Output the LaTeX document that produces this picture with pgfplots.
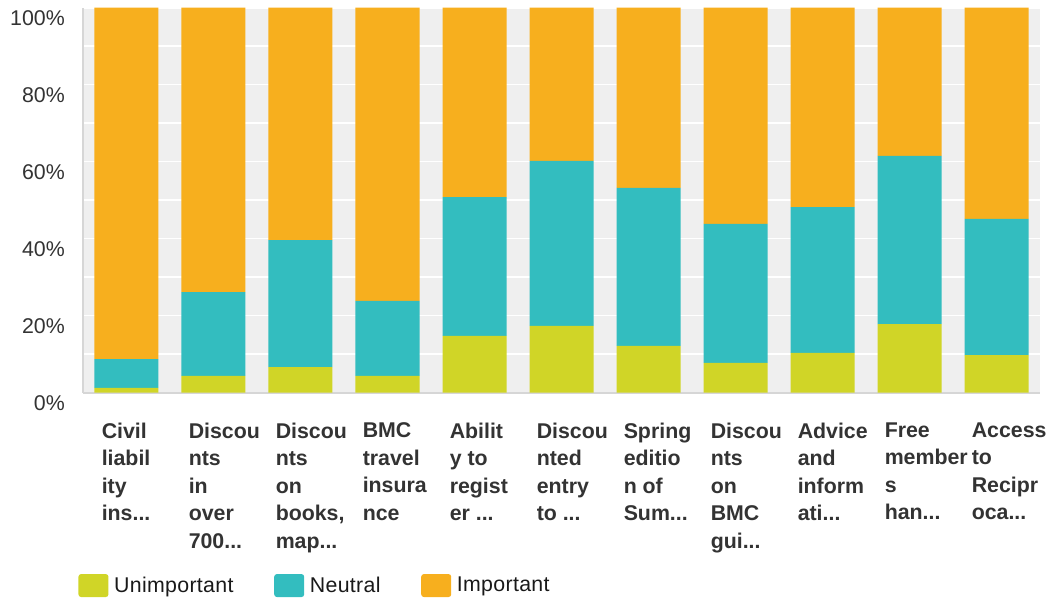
\documentclass[border=0pt]{standalone}
\usepackage{pgfplots}
\pgfplotsset{compat=1.18}
\usepackage{fontspec}
\setmainfont{Liberation Sans}
\definecolor{cU}{HTML}{D0D527}
\definecolor{cN}{HTML}{33BDBF}
\definecolor{cI}{HTML}{F7AF1E}
\definecolor{bgc}{HTML}{EFEFEF}
\definecolor{lineg}{HTML}{D6D6D6}
\definecolor{txt}{HTML}{333333}
\newcommand{\dd}{.\kern0pt.\kern0pt.}
\pgfplotstableread{
x U N I
0 1.2 7.5 91.3
1 4.3 21.8 73.9
2 6.6 33.0 60.4
3 4.3 19.5 76.2
4 14.7 36.1 49.2
5 17.3 42.9 39.8
6 12.1 41.1 46.8
7 7.7 36.1 56.2
8 10.3 37.9 51.8
9 17.8 43.7 38.5
10 9.7 35.4 54.9
}\datatable
\begin{document}
\begin{tikzpicture}
\useasboundingbox (-62.25pt,-154.9pt) rectangle (723pt,294.4pt);
\begin{axis}[
  scale only axis,
  width=717.75pt, height=288.6pt,
  ybar stacked, bar width=48pt,
  xmin=-0.5, xmax=10.5, ymin=0, ymax=100,
  axis background/.style={fill=bgc},
  axis x line*=bottom, axis y line*=left,
  axis line style={draw=lineg, line width=1.5pt, -},
  major tick length=0pt, minor tick length=0pt,
  ytick={0,20,40,60,80,100},
  minor ytick={10,30,50,70,90},
  yticklabels={0\%,20\%,40\%,60\%,80\%,100\%},
  grid=both,
  major grid style={draw=white, line width=1.2pt},
  minor grid style={draw=white, line width=1.2pt},
  xmajorgrids=false, xminorgrids=false,
  yticklabel style={font=\fontsize{16}{19}\selectfont, text=txt, anchor=east, inner sep=0pt, xshift=-13.5pt, yshift=-8pt},
  xtick=data,
  xticklabels={
    {Civil\\liabil\\ity\\ins\dd},
    {Discou\\nts\\in\\over\\700\dd},
    {Discou\\nts\\on\\books,\\map\dd},
    {BMC\\travel\\insura\\nce},
    {Abilit\\y to\\regist\\er \dd},
    {Discou\\nted\\entry\\to \dd},
    {Spring\\editio\\n of\\Sum\dd},
    {Discou\\nts\\on\\BMC\\gui\dd},
    {Advice\\and\\inform\\ati\dd},
    {Free\\member\\s\\han\dd},
    {Access\\to\\Recipr\\oca\dd}},
  xticklabel style={font=\bfseries\fontsize{16}{20.6}\selectfont, text=txt, align=left, anchor=north west, inner sep=0pt, xshift=-18.75pt, yshift=-22.5pt},
  legend columns=3,
  legend style={draw=none, fill=none, inner sep=0pt, at={(axis description cs:-0.005,-0.5016)}, anchor=west,
    font=\fontsize{16}{19}\selectfont\addfontfeatures{LetterSpace=1.5}, text=black!90,
    /tikz/every odd column/.append style={column sep=2.25pt},
    /tikz/every even column/.append style={column sep=28.5pt}},
]
\addplot[fill=cU, draw=none, legend image code/.code={\fill[cU, rounded corners=2pt] (0pt,-8.6pt) rectangle (22.5pt,8.6pt);}] table[x=x, y=U] {\datatable};
\addplot[fill=cN, draw=none, legend image code/.code={\fill[cN, rounded corners=2pt] (0pt,-8.6pt) rectangle (22.5pt,8.6pt);}] table[x=x, y=N] {\datatable};
\addplot[fill=cI, draw=none, legend image code/.code={\fill[cI, rounded corners=2pt] (0pt,-8.6pt) rectangle (22.5pt,8.6pt);}] table[x=x, y=I] {\datatable};
\legend{Unimportant, Neutral, Important}
\end{axis}
\end{tikzpicture}
\end{document}
